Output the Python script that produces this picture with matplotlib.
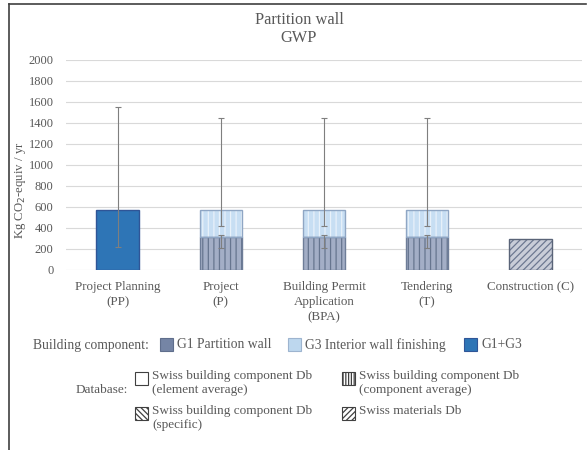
import matplotlib.pyplot as plt
import numpy as np
from matplotlib.patches import Rectangle
from matplotlib.lines import Line2D

plt.rcParams['font.family'] = ['Liberation Serif', 'DejaVu Serif']
plt.rcParams['hatch.linewidth'] = 0.9

# categories (project phases)
stages = ['Project Planning\n(PP)', 'Project\n(P)', 'Building Permit\nApplication\n(BPA)',
          'Tendering\n(T)', 'Construction (C)']
# values in kg CO2-eq / yr
g1_g3 = np.array([570, 0, 0, 0, 0])       # G1+G3 together (element average)
g1 = np.array([0, 316, 316, 316, 0])       # G1 partition wall
g3 = np.array([0, 254, 254, 254, 0])       # G3 interior wall finishing
materials = np.array([0, 0, 0, 0, 292])    # Swiss materials Db
# error bars (minus, plus)
g1_g3_err = ([349], [979])
g3_err = ([149, 149, 149], [870, 870, 870])
g1_err = ([110, 110, 110], [14, 14, 14])

grey_txt = '#595959'
W, H = 588, 450
fig = plt.figure(figsize=(W / 100, H / 100), dpi=100)
ax = fig.add_axes([66 / W, 1 - 270 / H, (582 - 66) / W, (270 - 59.5) / H])

x = np.arange(len(stages))
width = 0.41

def hbar(xs, h, bottom, face, hatch, hatch_col, edge):
    # hatch colour follows edgecolor, so draw the outline separately
    ax.bar(xs, h, width, bottom=bottom, color=face, hatch=hatch, edgecolor=hatch_col, linewidth=0, zorder=2)
    ax.bar(xs, h, width, bottom=bottom, fill=False, edgecolor=edge, linewidth=1.0, zorder=3)

m = g1_g3 > 0
ax.bar(x[m], g1_g3[m], width, color='#2E75B6', edgecolor='#2F5597', linewidth=1.0, zorder=2)
m = g1 > 0
hbar(x[m], g1[m], 0, '#A3AEC6', '|||', '#66758F', '#6E7D98')
hbar(x[m], g3[m], g1[m], '#C7DEF3', '|||', '#E8F1FA', '#8FA6C4')
m = materials > 0
hbar(x[m], materials[m], 0, '#C9CDD8', '/////', '#6D7891', '#5A6478')

ekw = dict(fmt='none', ecolor='#7F7F7F', elinewidth=0.8, capsize=2, capthick=0.8, zorder=4)
m = g1_g3 > 0
ax.errorbar(x[m], g1_g3[m], yerr=g1_g3_err, **ekw)
m = g1 > 0
ax.errorbar(x[m], (g1 + g3)[m], yerr=g3_err, **ekw)
ax.errorbar(x[m], g1[m], yerr=g1_err, **ekw)

ax.set_xlim(-0.5, 4.5)
ax.set_ylim(0, 2000)
ax.set_yticks(np.arange(0, 2001, 200))
ax.set_xticks(x)
ax.set_xticklabels(stages, fontsize=9.4, color=grey_txt, linespacing=1.35)
ax.tick_params(axis='y', labelsize=9, labelcolor=grey_txt, length=0, pad=9)
ax.tick_params(axis='x', length=0, pad=8)
ax.grid(axis='y', color='#D9D9D9', linewidth=0.8, zorder=0)
ax.set_axisbelow(True)
for s in ax.spines.values():
    s.set_visible(False)

fig.text(21 / W, 1 - 190 / H, 'Kg CO$_2$-equiv / yr', rotation=90, ha='center', va='center',
         fontsize=9.2, color=grey_txt)
fig.text(299 / W, 1 - 29 / H, 'Partition wall\nGWP', ha='center', va='center',
         fontsize=11.8, color=grey_txt, linespacing=1.1)

# legend area drawn in pixel coordinates
lg = fig.add_axes([0, 0, 1, 1], zorder=-1)
lg.set_xlim(0, W)
lg.set_ylim(H, 0)
lg.axis('off')
lg.patch.set_alpha(0)

lg.add_line(Line2D([9, 9], [4, H], color='#404040', lw=1.2))
lg.add_line(Line2D([9, 586], [4, 4], color='#404040', lw=1.2))

lg.text(33, 345, 'Building component:', fontsize=9.8, color=grey_txt, va='center')
comp = [(160, '#7585A5', '#5F6E8C', 'G1 Partition wall'),
        (288, '#BDD7EE', '#9DB4CF', 'G3 Interior wall finishing'),
        (464, '#2E75B6', '#2F5597', 'G1+G3')]
for px, fc, ec, lab in comp:
    lg.add_patch(Rectangle((px, 338), 13, 13, facecolor=fc, edgecolor=ec, lw=0.8))
    lg.text(px + 17, 345, lab, fontsize=9.8, color=grey_txt, va='center')

lg.text(128, 390, 'Database:', fontsize=9.5, color=grey_txt, va='center', ha='right')
db = [(135, 372, '', 'Swiss building component Db\n(element average)'),
      (342, 372, '||||||', 'Swiss building component Db\n(component average)'),
      (135, 407, '\\\\\\\\\\\\', 'Swiss building component Db\n(specific)'),
      (342, 407, '//////', 'Swiss materials Db')]
for px, py, hatch, lab in db:
    lg.add_patch(Rectangle((px, py), 13, 13, facecolor='white', edgecolor='#404040', hatch=hatch, lw=0.8))
    lg.text(px + 17, py - 2, lab, fontsize=9.5, color=grey_txt, va='top', linespacing=1.25)

fig.savefig('out.png', dpi=100)
